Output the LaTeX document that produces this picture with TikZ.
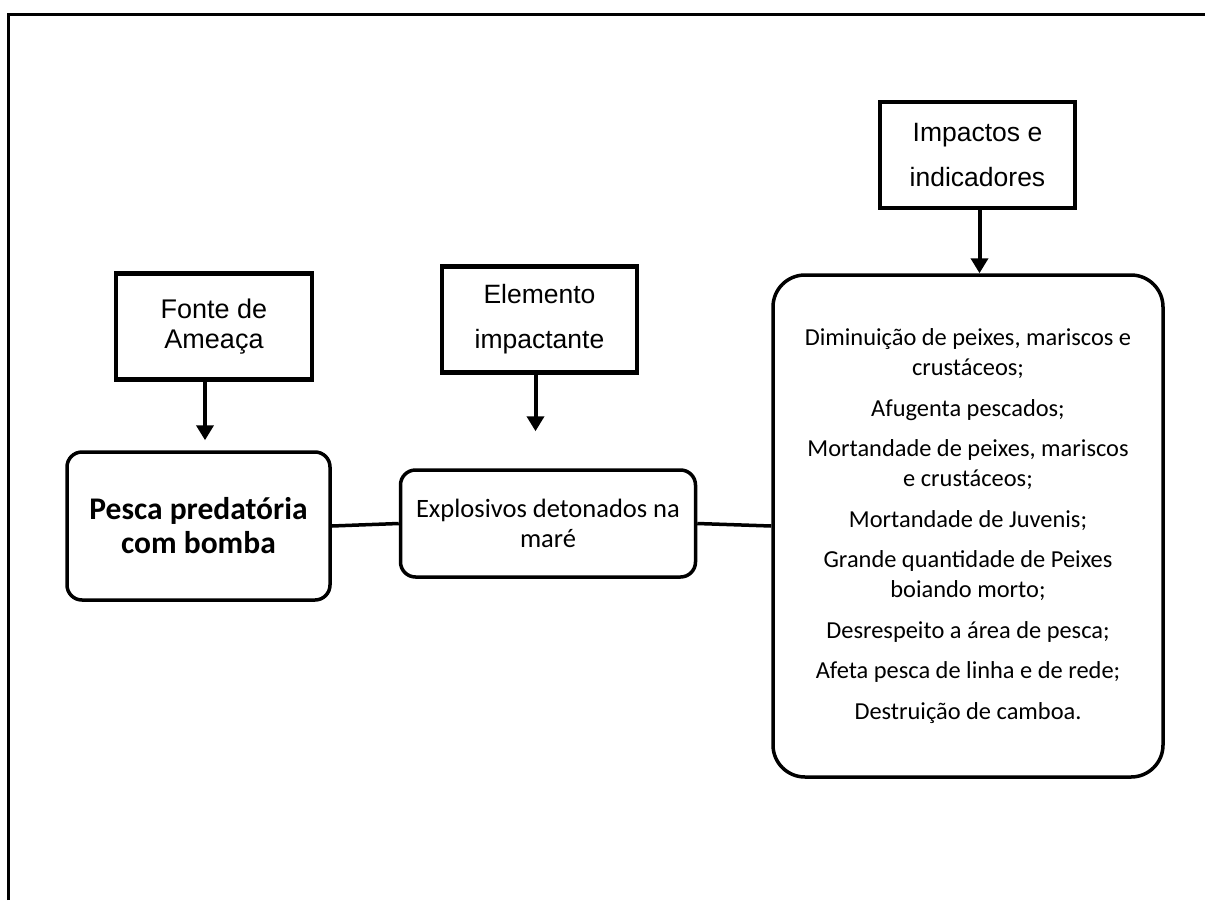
\documentclass[tikz,border=0pt]{standalone}
\usepackage{fontspec}
\setmainfont{Carlito}
\newfontfamily\arialfont{Liberation Sans}
\usetikzlibrary{arrows.meta,positioning}

\begin{document}
\begin{tikzpicture}[
  x=1pt, y=1pt,
  %% Square label box (Arial)
  labelbox/.style={
    draw, line width=4.5pt,
    minimum width=#1, minimum height=106,
    align=center,
    font=\arialfont\fontsize{26.5}{45}\selectfont
  },
  %% Rounded content box (Calibri)
  itembox/.style={
    draw, line width=3.5pt,
    rounded corners=15,
    align=center,
    inner sep=0pt
  },
  arr/.style={-{Triangle[length=15pt,width=17pt]}, line width=4pt},
  link/.style={line width=3.5pt}
]
\useasboundingbox (0,0) rectangle (1205,-900);

%% ---- Frame ----
\draw[line width=3pt] (8,-900) -- (8,-14) -- (1205,-14);

%% ---- Label boxes ----
\node[labelbox=196, font=\arialfont\fontsize{27}{30}\selectfont] (fonte) at (214,-326.5) {Fonte de\\Ameaça};
\node[labelbox=195] (elem) at (539.5,-319.5) {Elemento\\impactante};
\node[labelbox=195] (imp) at (977.5,-155) {Impactos e\\indicadores};

%% ---- Content boxes ----
\node[itembox, minimum width=263, minimum height=148,
      font=\bfseries\fontsize{31.5}{34}\selectfont] (pesca) at (198.5,-526)
  {Pesca predatória\\com bomba};
\node[itembox, minimum width=295, minimum height=107,
      font=\fontsize{26.5}{30}\selectfont] (expl) at (548,-523.5)
  {Explosivos detonados na\\maré};
\node[itembox, rounded corners=32, minimum width=390, minimum height=502,
      font=\fontsize{24.4}{30}\selectfont] (impl) at (968,-526)
  {Diminuição de peixes, mariscos e\\crustáceos;\\[10.5pt]
   Afugenta pescados;\\[10.5pt]
   Mortandade de peixes, mariscos\\e crustáceos;\\[10.5pt]
   Mortandade de Juvenis;\\[10.5pt]
   Grande quantidade de Peixes\\boiando morto;\\[10.5pt]
   Desrespeito a área de pesca;\\[10.5pt]
   Afeta pesca de linha e de rede;\\[10.5pt]
   Destruição de camboa.};

%% ---- Arrows ----
\draw[arr, shorten >=10pt] ([xshift=-9]fonte.south) -- ([xshift=-9]fonte.south |- pesca.north);
\draw[arr, shorten >=37pt] ([xshift=-4]elem.south) -- ([xshift=-4]elem.south |- expl.north);
\draw[arr] ([xshift=2]imp.south) -- ([xshift=2]imp.south |- impl.north);

%% ---- Links ----
\draw[link] (pesca.east) -- (expl.west);
\draw[link] (expl.east) -- (impl.west);

\end{tikzpicture}
\end{document}
